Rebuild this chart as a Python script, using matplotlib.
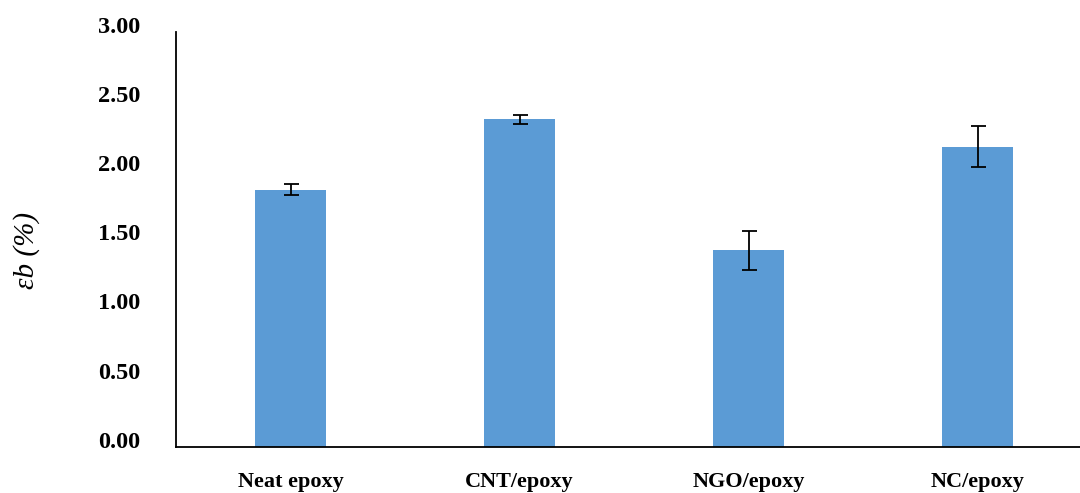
import matplotlib
matplotlib.use("Agg")
import matplotlib.pyplot as plt
import matplotlib.transforms as mtransforms

categories = ["Neat epoxy", "CNT/epoxy", "NGO/epoxy", "NC/epoxy"]
values = [1.86, 2.37, 1.42, 2.17]
errors = [0.04, 0.033, 0.14, 0.15]
yticks = [0.0, 0.5, 1.0, 1.5, 2.0, 2.5, 3.0]
ytick_labels = ["0.00", "0.50", "1.00", "1.50", "2.00", "2.50", "3.00"]

plt.rcParams['font.family'] = ['Liberation Serif', 'DejaVu Serif']

fig = plt.figure(figsize=(10.8, 4.93), dpi=100)
ax = fig.add_axes([176/1080, 46.3/493, 1 - 176/1080, 414.7/493])

x = list(range(len(categories)))
ax.bar(x, values, width=0.314, color="#5B9BD5", zorder=2)
ax.errorbar(x, values, yerr=errors, fmt="none", ecolor="black",
            elinewidth=1.3, capsize=5.4, capthick=1.3, zorder=3)

ax.set_xlim(-0.5, (1080 - 176) / 229 - 0.5)
ax.set_ylim(0, 3.0)
ax.set_yticks(yticks)
ax.set_yticklabels(ytick_labels, fontsize=17.5, fontweight="bold")
ax.set_xticks(x)
ax.set_xticklabels(categories, fontsize=16, fontweight="bold")
ax.tick_params(axis="both", length=0)
ax.tick_params(axis="y", pad=25.5)
ax.tick_params(axis="x", pad=18)

offset = mtransforms.ScaledTranslation(0, 7/100, fig.dpi_scale_trans)
for lab in ax.get_yticklabels():
    lab.set_transform(lab.get_transform() + offset)

for s in ["top", "right"]:
    ax.spines[s].set_visible(False)
ax.spines["left"].set_linewidth(1.3)
ax.spines["bottom"].set_linewidth(1.3)

fig.text(27/1080, 1 - 250/493, "εb (%)", rotation=90, fontsize=21,
         fontstyle="italic", ha="center", va="center")

fig.savefig("out.png", dpi=100)
